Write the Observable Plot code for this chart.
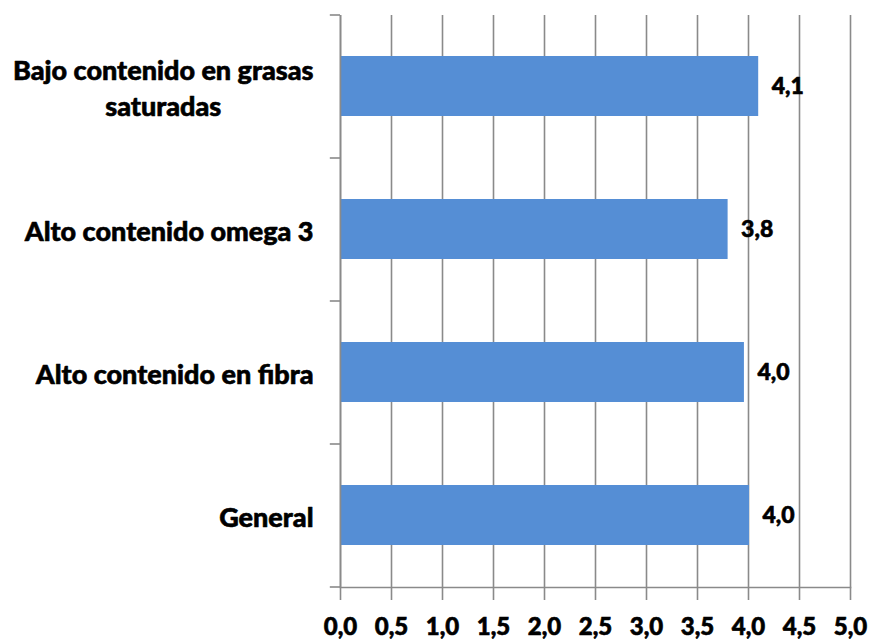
<!DOCTYPE html>
<html>
<head>
<meta charset="utf-8">
<script src="https://cdn.jsdelivr.net/npm/d3@7"></script>
<script src="https://cdn.jsdelivr.net/npm/@observablehq/plot@0.6"></script>
<style>
  html, body { margin: 0; padding: 0; background: #ffffff; }
  #chart svg { display: block; }
  #chart svg [aria-label="x-axis tick label"] text { stroke: #000; stroke-width: 0.6px; paint-order: stroke; }
</style>
</head>
<body>
<div id="chart"></div>
<script>
const categories = ["Bajo contenido en grasas\nsaturadas", "Alto contenido omega 3", "Alto contenido en fibra", "General"];
const values = [4.10, 3.80, 3.96, 4.01];
const valueLabels = ["4,1", "3,8", "4,0", "4,0"];
const xTicks = [0, 0.5, 1, 1.5, 2, 2.5, 3, 3.5, 4, 4.5, 5];
const xTickLabels = ["0,0", "0,5", "1,0", "1,5", "2,0", "2,5", "3,0", "3,5", "4,0", "4,5", "5,0"];

const data = categories.map((c, i) => ({category: c, value: values[i], label: valueLabels[i]}));

const W = 871, H = 641, mL = 340, mR = 21, mT = 15, mB = 54;
const step = (H - mT - mB) / categories.length;
const grid = "#8a8a8a";
const labelFont = "Lato, 'Open Sans', sans-serif";
const catSize = 27;
const weight = 900;

// measure widest line of each category label, to centre lines on that block
const ctx = document.createElement("canvas").getContext("2d");
ctx.font = `${weight} ${catSize}px Lato`;
const blockWidth = c => d3.max(c.split("\n"), s => ctx.measureText(s).width);

const chart = Plot.plot({
  width: W,
  height: H,
  marginLeft: mL,
  marginRight: mR,
  marginTop: mT,
  marginBottom: mB,
  style: {fontFamily: labelFont, background: "#ffffff"},
  x: {domain: [0, 5], label: null},
  y: {domain: categories, paddingInner: 0.58, paddingOuter: 0.29, axis: null},
  marks: [
    Plot.ruleX(xTicks, {stroke: grid, strokeWidth: 1.6}),
    Plot.axisX({
      ticks: xTicks,
      tickFormat: (d, i) => xTickLabels[i],
      label: null,
      tickSize: 13,
      tickPadding: 17,
      stroke: grid,
      strokeWidth: 1.6,
      strokeOpacity: 1,
      fontSize: 24,
      fontWeight: weight,
      fill: "#000"
    }),
    Plot.barX(data, {x: "value", y: "category", fill: "#558ed5"}),
    Plot.ruleX([0], {stroke: grid, strokeWidth: 1.6}),
    Plot.frame({anchor: "bottom", stroke: grid, strokeWidth: 1.6}),
    Plot.ruleY(categories, {y: d => d, x1: -0.1, x2: 0, dy: -step / 2, stroke: grid, strokeWidth: 1.6}),
    Plot.ruleY(categories.slice(-1), {y: d => d, x1: -0.1, x2: 0, dy: step / 2, stroke: grid, strokeWidth: 1.6}),
    Plot.text(data, {
      x: "value", y: "category", text: "label",
      dx: 13, textAnchor: "start",
      fontSize: 23, fontWeight: weight, fill: "#000",
      stroke: "#000", strokeWidth: 0.6
    }),
    ...data.map(d => Plot.text([d], {
      x: 0, y: "category", text: "category",
      dx: -27 - blockWidth(d.category) / 2, textAnchor: "middle",
      lineHeight: 1.35,
      fontSize: catSize, fontWeight: weight, fill: "#000",
      stroke: "#000", strokeWidth: 0.6
    }))
  ]
});
document.getElementById("chart").appendChild(chart);
</script>
</body>
</html>
